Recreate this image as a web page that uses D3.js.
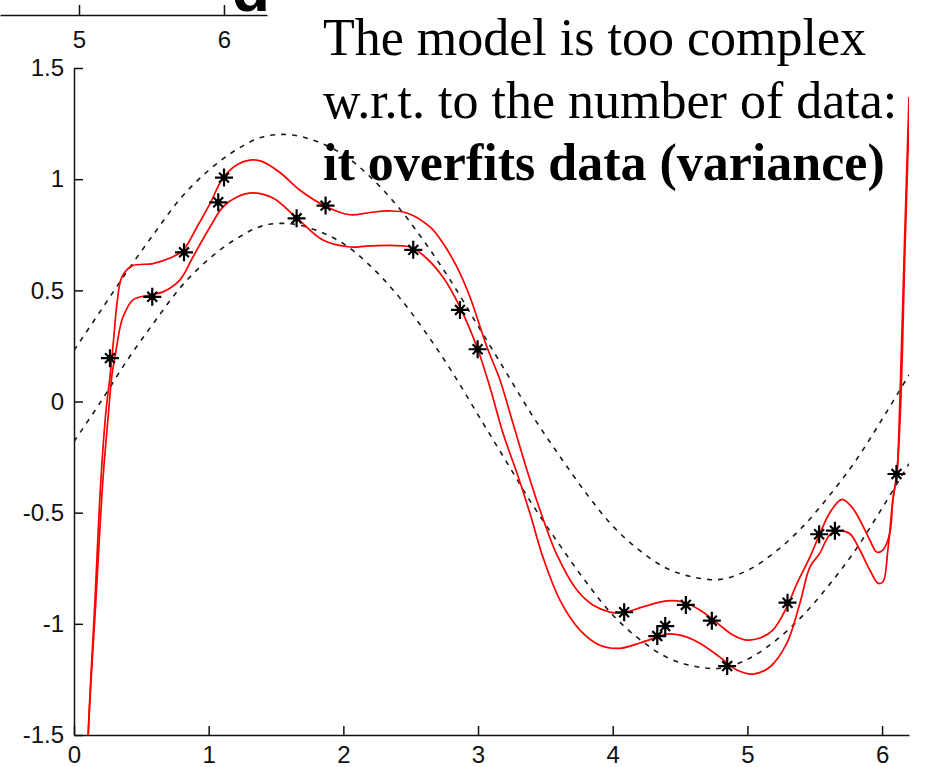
<!DOCTYPE html>
<html>
<head>
<meta charset="utf-8">
<script src="https://cdn.jsdelivr.net/npm/d3@7"></script>
<style>
  html, body { margin: 0; padding: 0; background: #fff; }
  svg { display: block; }
</style>
</head>
<body>
<script>
// ---- data -------------------------------------------------------------
const xTicks = [0, 1, 2, 3, 4, 5, 6];
const yTicks = [-1.5, -1, -0.5, 0, 0.5, 1, 1.5];
const prevTicks = [5, 6];

// confidence band around the true function (dashed)
const bandX = [0, 0.2, 0.4, 0.6, 0.8, 1.0, 1.2, 1.4, 1.6, 1.8, 2.0, 2.2, 2.4, 2.6, 2.8, 3.0,
               3.2, 3.4, 3.6, 3.8, 4.0, 4.2, 4.4, 4.6, 4.8, 5.0, 5.2, 5.4, 5.6, 5.8, 6.0, 6.2];
const bandUpper = [0.23, 0.41, 0.59, 0.76, 0.92, 1.04, 1.13, 1.19, 1.20, 1.17, 1.11, 1.01, 0.88, 0.72, 0.54, 0.34,
                   0.14, -0.06, -0.24, -0.41, -0.56, -0.67, -0.75, -0.79, -0.80, -0.76, -0.68, -0.57, -0.43, -0.27, -0.08, 0.12];
const bandLower = [-0.18, 0.00, 0.19, 0.36, 0.52, 0.64, 0.73, 0.79, 0.80, 0.77, 0.71, 0.61, 0.48, 0.32, 0.14, -0.06,
                   -0.26, -0.46, -0.64, -0.81, -0.96, -1.07, -1.15, -1.19, -1.20, -1.16, -1.08, -0.97, -0.83, -0.67, -0.48, -0.28];

// overfitted model, upper curve
const fitHighX = [0.08, 0.104, 0.156, 0.200, 0.238, 0.267, 0.282, 0.300, 0.319, 0.356, 0.431, 0.586, 0.713, 0.809,
                  0.913, 1.010, 1.106, 1.210, 1.307, 1.396, 1.529, 1.678, 1.878, 2.049, 2.197, 2.346, 2.472, 2.643,
                  2.739, 2.843, 2.940, 3.066, 3.163, 3.259, 3.363, 3.460, 3.586, 3.734, 3.853, 3.979, 4.076, 4.224,
                  4.402, 4.521, 4.647, 4.774, 4.892, 4.996, 5.093, 5.189, 5.293, 5.367, 5.464, 5.538, 5.612, 5.702,
                  5.776, 5.835, 5.909, 5.961, 6.006, 6.058, 6.080, 6.110, 6.132, 6.165, 6.200];
const fitHighY = [-2.1, -1.52, -0.89, -0.35, -0.04, 0.11, 0.20, 0.32, 0.44, 0.56, 0.61, 0.62, 0.645, 0.68,
                  0.785, 0.89, 1.005, 1.065, 1.086, 1.08, 1.03, 0.95, 0.875, 0.84, 0.85, 0.857, 0.848, 0.785,
                  0.713, 0.605, 0.47, 0.245, 0.097, -0.097, -0.308, -0.488, -0.69, -0.848, -0.915, -0.947, -0.951, -0.924,
                  -0.897, -0.902, -0.938, -0.996, -1.05, -1.073, -1.064, -1.028, -0.924, -0.82, -0.70, -0.595, -0.50, -0.44,
                  -0.475, -0.533, -0.623, -0.677, -0.668, -0.591, -0.443, -0.322, 0.0, 0.68, 1.37];

// overfitted model, lower curve
const fitLowX = [0.08, 0.104, 0.163, 0.215, 0.252, 0.282, 0.304, 0.341, 0.364, 0.438, 0.564, 0.661, 0.787, 0.883,
                 1.010, 1.106, 1.210, 1.329, 1.477, 1.655, 1.848, 2.049, 2.197, 2.494, 2.591, 2.739, 2.866, 2.992,
                 3.088, 3.185, 3.289, 3.385, 3.482, 3.608, 3.757, 3.905, 4.053, 4.202, 4.328, 4.402, 4.551, 4.670,
                 4.796, 4.922, 5.041, 5.167, 5.293, 5.390, 5.464, 5.538, 5.612, 5.687, 5.761, 5.835, 5.909, 5.969,
                 6.006, 6.043, 6.080, 6.110, 6.139, 6.170, 6.205];
const fitLowY = [-2.1, -1.52, -0.89, -0.35, -0.08, 0.12, 0.20, 0.33, 0.38, 0.457, 0.479, 0.493, 0.547, 0.65,
                 0.785, 0.875, 0.92, 0.938, 0.915, 0.825, 0.726, 0.695, 0.70, 0.695, 0.659, 0.56, 0.425, 0.245,
                 0.065, -0.142, -0.322, -0.502, -0.70, -0.893, -1.028, -1.096, -1.11, -1.086, -1.06, -1.046, -1.06, -1.096,
                 -1.15, -1.208, -1.226, -1.194, -1.087, -0.907, -0.745, -0.682, -0.60, -0.582, -0.595, -0.668, -0.758, -0.817,
                 -0.812, -0.668, -0.443, -0.322, 0.0, 0.68, 1.37];

// observed samples
const obsX = [0.267, 0.581, 0.817, 1.071, 1.114, 1.653, 1.868, 2.519, 2.866, 2.997,
              4.085, 4.331, 4.390, 4.543, 4.736, 4.850, 5.298, 5.533, 5.650, 6.107];
const obsY = [0.195, 0.471, 0.671, 0.896, 1.007, 0.824, 0.881, 0.682, 0.412, 0.235,
              -0.948, -1.055, -1.010, -0.915, -0.986, -1.190, -0.905, -0.597, -0.581, -0.326];

const noteLines = [
  { text: "The model is too complex", bold: false },
  { text: "w.r.t. to the number of data:", bold: false },
  { text: "it overfits data (variance)", bold: true }
];

// ---- layout -----------------------------------------------------------
const W = 928, H = 767;
const plot = { left: 74, right: 909, top: 68, bottom: 735 };

const svg = d3.select("body").append("svg")
  .attr("width", W).attr("height", H)
  .attr("viewBox", `0 0 ${W} ${H}`);

svg.append("rect").attr("width", W).attr("height", H).attr("fill", "#fff");

const x = d3.scaleLinear().domain([0, 6.2]).range([plot.left, plot.right]);
const y = d3.scaleLinear().domain([-1.5, 1.5]).range([plot.bottom, plot.top]);

const tickFont = "'Liberation Sans', Arial, Helvetica, sans-serif";

function styleAxis(g) {
  g.select(".domain").attr("stroke", "#111").attr("stroke-width", 1.5);
  g.selectAll(".tick line").attr("stroke", "#111").attr("stroke-width", 1.5);
  g.selectAll(".tick text")
    .attr("fill", "#111")
    .style("font-family", tickFont)
    .style("font-size", "24px");
}

// ---- fragment of the neighbouring axis along the top edge --------------
const prevX = d3.scaleLinear().domain([4.455, 6.297]).range([0, 267]);
svg.append("g")
  .attr("transform", "translate(0,15)")
  .call(d3.axisBottom(prevX).tickValues(prevTicks).tickFormat(d => String(d))
        .tickSizeInner(-10).tickSizeOuter(0).tickPadding(16))
  .call(styleAxis);

svg.append("text")
  .attr("x", 232).attr("y", 11)
  .style("font-family", tickFont)
  .style("font-size", "62px")
  .style("font-weight", "bold")
  .attr("fill", "#000")
  .text("d");

// ---- main axes --------------------------------------------------------
svg.append("g")
  .attr("transform", `translate(0,${plot.bottom})`)
  .call(d3.axisBottom(x).tickValues(xTicks).tickFormat(d => String(d))
        .tickSizeInner(-9).tickSizeOuter(0).tickPadding(11))
  .call(styleAxis);

svg.append("g")
  .attr("transform", `translate(${plot.left},0)`)
  .call(d3.axisLeft(y).tickValues(yTicks).tickFormat(d => String(d))
        .tickSizeInner(-9).tickSizeOuter(0).tickPadding(10))
  .call(styleAxis);

// ---- curves -----------------------------------------------------------
svg.append("clipPath").attr("id", "plot-clip")
  .append("rect")
  .attr("x", plot.left).attr("y", plot.top)
  .attr("width", plot.right - plot.left).attr("height", plot.bottom - plot.top);

const layer = svg.append("g").attr("clip-path", "url(#plot-clip)");

const line = d3.line()
  .x(d => x(d[0]))
  .y(d => y(d[1]))
  .curve(d3.curveCatmullRom.alpha(0.5));

const zip = (xs, ys) => xs.map((v, i) => [v, ys[i]]);

[bandUpper, bandLower].forEach(vals => {
  layer.append("path")
    .datum(zip(bandX, vals))
    .attr("d", line)
    .attr("fill", "none")
    .attr("stroke", "#1a1a1a")
    .attr("stroke-width", 1.6)
    .attr("stroke-dasharray", "5,6");
});

[[fitHighX, fitHighY], [fitLowX, fitLowY]].forEach(([xs, ys]) => {
  layer.append("path")
    .datum(zip(xs, ys))
    .attr("d", line)
    .attr("fill", "none")
    .attr("stroke", "#ff0000")
    .attr("stroke-width", 1.7)
    .attr("stroke-linejoin", "round");
});

// ---- sample markers (asterisks) --------------------------------------
const asterisk = {
  draw(ctx, size) {
    const r = Math.sqrt(size) / 2;   // arm of the plus
    const q = r * 0.55;              // diagonal offset
    ctx.moveTo(-r, 0); ctx.lineTo(r, 0);
    ctx.moveTo(0, -r); ctx.lineTo(0, r);
    ctx.moveTo(-q, -q); ctx.lineTo(q, q);
    ctx.moveTo(-q, q); ctx.lineTo(q, -q);
  }
};
const star = d3.symbol().type(asterisk).size(324);

svg.append("g")
  .selectAll("path")
  .data(zip(obsX, obsY))
  .join("path")
  .attr("transform", d => `translate(${x(d[0])},${y(d[1])})`)
  .attr("d", star)
  .attr("fill", "none")
  .attr("stroke", "#000")
  .attr("stroke-width", 2.2);

svg.append("g")
  .selectAll("circle")
  .data(zip(obsX, obsY))
  .join("circle")
  .attr("cx", d => x(d[0]))
  .attr("cy", d => y(d[1]))
  .attr("r", 3.2)
  .attr("fill", "#000");

// ---- annotation -------------------------------------------------------
const note = svg.append("g")
  .style("font-family", "'Liberation Serif', 'Times New Roman', Times, serif")
  .style("font-size", "52px")
  .attr("fill", "#000");

const noteBaselines = [55, 118, 180];
note.selectAll("text")
  .data(noteLines)
  .join("text")
  .attr("x", 323)
  .attr("y", (d, i) => noteBaselines[i])
  .style("font-weight", d => d.bold ? "bold" : "normal")
  .text(d => d.text);
</script>
</body>
</html>
